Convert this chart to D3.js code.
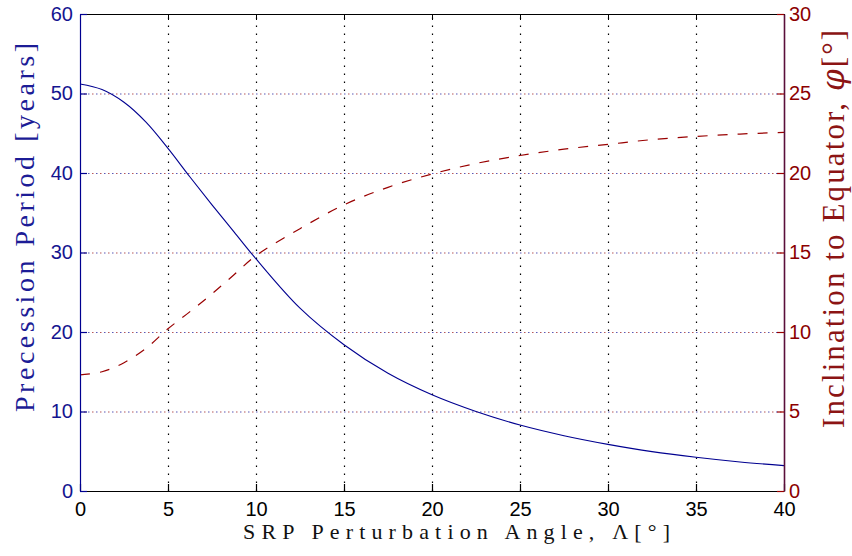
<!DOCTYPE html>
<html><head><meta charset="utf-8">
<script src="https://cdn.jsdelivr.net/npm/d3@7"></script>
<style>
body{margin:0;background:#fff;}
svg{display:block;}
</style></head>
<body>
<svg id="chart" width="852" height="556"></svg>
<script>
// ---- data ----
const angles = [0,1.25,2.5,3.75,5,6.25,7.5,8.75,10,12.5,15,17.5,20,22.5,25,27.5,30,32.5,35,37.5,40];
const precessionPeriod = [51.2,50.5,48.9,46.4,43.1,39.5,36.0,32.6,29.2,23.0,18.4,14.8,12.1,10.0,8.3,6.96,5.87,4.95,4.24,3.65,3.19];
const inclination = [7.3,7.5,8.07,8.97,10.2,11.28,12.4,13.6,14.8,16.5,18.0,19.1,19.94,20.6,21.1,21.5,21.8,22.1,22.3,22.45,22.56];
const xTicks = [0,5,10,15,20,25,30,35,40];
const yLeftTicks = [0,10,20,30,40,50,60];
const yRightTicks = [0,5,10,15,20,25,30];
const xLabel = "SRP Perturbation Angle, Λ[°]";
const yLeftLabel = "Precession Period [years]";
const yRightLabelMain = "Inclination to Equator, ";
const yRightLabelSym = "φ";
const yRightLabelUnit = "[°]";

// ---- layout ----
const L = 80, R = 784, T = 14, B = 491;
const blue = "#000090", red = "#990000";
const svg = d3.select("#chart");
const x = d3.scaleLinear().domain([0,40]).range([L,R]);
const yL = d3.scaleLinear().domain([0,60]).range([B,T]);
const yR = d3.scaleLinear().domain([0,30]).range([B,T]);

// ---- grids ----
const gridV = svg.append("g").attr("transform",`translate(0,${B})`)
  .call(d3.axisBottom(x).tickValues(xTicks.filter(d=>d>0&&d<40)).tickSize(-(B-T)).tickFormat(""));
gridV.select(".domain").remove();
gridV.selectAll("line").attr("stroke","#000").attr("stroke-width",1.2).attr("stroke-dasharray","1.5,6.5");

const gridLB = svg.append("g").attr("transform",`translate(${L},0)`)
  .call(d3.axisLeft(yL).tickValues(yLeftTicks.filter(d=>d>0&&d<60)).tickSize(-(R-L)).tickFormat(""));
gridLB.select(".domain").remove();
gridLB.selectAll("line").attr("stroke","#2020a0").attr("stroke-width",1.2).attr("stroke-dasharray","1.5,6.5").attr("stroke-opacity",0.75);

const gridRR = svg.append("g").attr("transform",`translate(${L},0)`)
  .call(d3.axisLeft(yR).tickValues(yRightTicks.filter(d=>d>0&&d<30)).tickSize(-(R-L)).tickFormat(""));
gridRR.select(".domain").remove();
gridRR.selectAll("line").attr("stroke","#a02020").attr("stroke-width",1.2).attr("stroke-dasharray","1.5,6.5").attr("stroke-dashoffset",-4).attr("stroke-opacity",0.75);

// ---- lines ----
const linePeriod = d3.line().x((d,i)=>x(angles[i])).y(d=>yL(d)).curve(d3.curveCatmullRom.alpha(0.5));
const lineIncl = d3.line().x((d,i)=>x(angles[i])).y(d=>yR(d)).curve(d3.curveCatmullRom.alpha(0.5));
svg.append("path").datum(inclination).attr("d",lineIncl)
  .attr("fill","none").attr("stroke",red).attr("stroke-width",1.2).attr("stroke-dasharray","10,10");
svg.append("path").datum(precessionPeriod).attr("d",linePeriod)
  .attr("fill","none").attr("stroke",blue).attr("stroke-width",1.1);

// ---- axes ----
const fontTick = "'Liberation Sans', Arial, sans-serif";
const axTop = svg.append("g").attr("transform",`translate(0,${T})`)
  .call(d3.axisTop(x).tickValues(xTicks).tickSize(-6).tickFormat(""));
axTop.selectAll("line,path").attr("stroke","#000");

const axBottom = svg.append("g").attr("transform",`translate(0,${B})`)
  .call(d3.axisBottom(x).tickValues(xTicks).tickSize(-7).tickPadding(11).tickSizeOuter(0));
axBottom.selectAll("line,path").attr("stroke","#000").attr("stroke-width",1.2);
axBottom.selectAll("text").attr("fill","#000").attr("font-family",fontTick).attr("font-size",20).attr("dy","0.71em");

const axLeft = svg.append("g").attr("transform",`translate(${L},0)`)
  .call(d3.axisLeft(yL).tickValues(yLeftTicks).tickSize(-7).tickPadding(7).tickSizeOuter(0));
axLeft.selectAll("line,path").attr("stroke",blue).attr("stroke-width",1.2);
axLeft.selectAll("text").attr("fill","#141490").attr("font-family",fontTick).attr("font-size",20);

const axRight = svg.append("g").attr("transform",`translate(${R},0)`)
  .call(d3.axisRight(yR).tickValues(yRightTicks).tickSize(-7).tickPadding(5).tickSizeOuter(0));
axRight.selectAll("line").attr("stroke",red).attr("stroke-width",1.2);
axRight.select(".domain").attr("stroke","#5a0f3a").attr("stroke-width",1.6);
axRight.selectAll("text").attr("fill","#8c0000").attr("font-family",fontTick).attr("font-size",20);

// ---- axis labels ----
const fontLab = "'Liberation Serif', 'DejaVu Serif', serif";
svg.append("text").attr("x",456.5).attr("y",539).attr("text-anchor","middle")
  .attr("font-family",fontLab).attr("font-size",22).attr("fill","#111")
  .attr("textLength",427).attr("lengthAdjust","spacing").text(xLabel);

svg.append("text").attr("transform","translate(34,227.5) rotate(-90)").attr("text-anchor","middle")
  .attr("font-family",fontLab).attr("font-size",28).attr("fill","#1c1c96")
  .attr("textLength",369).attr("lengthAdjust","spacing").text(yLeftLabel);

const rl = svg.append("text").attr("transform","translate(844,229) rotate(-90)").attr("text-anchor","middle")
  .attr("font-family",fontLab).attr("font-size",31).attr("fill","#8c1414")
  .attr("textLength",398).attr("lengthAdjust","spacing");
rl.append("tspan").text(yRightLabelMain);
rl.append("tspan").attr("font-family","'DejaVu Serif', serif").attr("font-style","italic").attr("font-weight","normal").text(yRightLabelSym);
rl.append("tspan").text(yRightLabelUnit);
</script>
</body></html>
